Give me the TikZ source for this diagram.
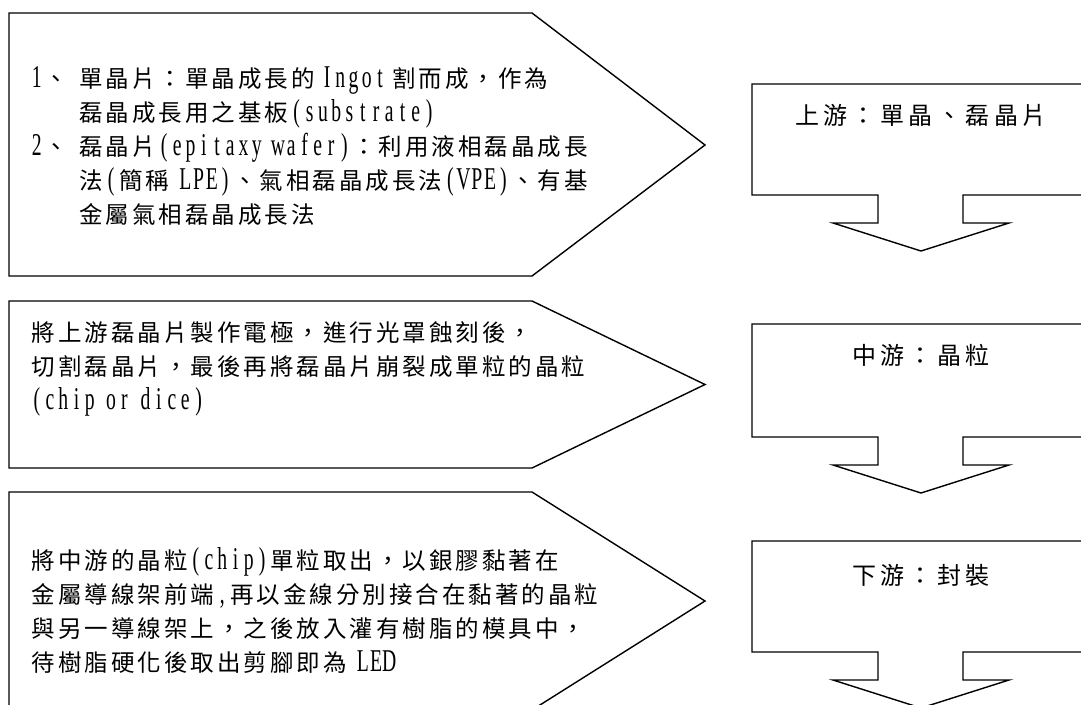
\documentclass[tikz,border=0pt]{standalone}
\usepackage{fontspec}
\setmainfont{Noto Sans CJK TC}
\newfontfamily\latinf[FakeStretch=0.62,Scale=1.35]{Liberation Serif}
\newdimen\fullw \fullw=26.5pt
\newdimen\halfw \halfw=13.25pt
\newdimen\spw \spw=8pt
\newdimen\thinw \thinw=4pt
\def\mingend{\mingend}
\def\ming#1{\mingA#1\mingend}
\def\mingA#1{\ifx#1\mingend\else\mingB{#1}\expandafter\mingA\fi}
\def\mingB#1{%
  \ifnum`#1=32 \hbox to \spw{}%
  \else\ifnum`#1="2009 \hbox to \thinw{}%
  \else\ifnum`#1>"2000 \hbox to \fullw{\hss#1\hss}%
  \else\hbox to \halfw{\hss\latinf #1\hss}%
  \fi\fi\fi}
\tikzset{
  shp/.style={draw=black,line width=1.4pt,line join=miter,fill=white},
  ptxt/.style={anchor=base west,inner sep=0pt,font=\fontsize{23.5}{34}\selectfont},
  rtxt/.style={anchor=base,inner sep=0pt,font=\fontsize{24}{34}\selectfont},
}
\begin{document}
\begin{tikzpicture}[x=1pt,y=-1pt]
\useasboundingbox (0,0) rectangle (1081,704);
\fill[white] (0,0) rectangle (1081,704);
\clip (0,0) rectangle (1081,704);
% pentagons
\draw[shp] (9,13) -- (532,13) -- (705,145) -- (532,276) -- (9,276) -- cycle;
\draw[shp] (9,301) -- (532,301) -- (705,384.5) -- (532,468) -- (9,468) -- cycle;
\draw[shp] (9,492) -- (532,492) -- (705,601) -- (532,710) -- (9,710) -- cycle;
% down arrow callouts
\foreach \t/\b in {84/195, 324/437, 541/652}{
  \draw[shp] (752,\t) -- (1090,\t) -- (1090,\b) -- (963,\b) -- (963,\b+28)
    -- (1009,\b+28) -- (921,\b+56) -- (833,\b+28) -- (878,\b+28) -- (878,\b) -- (752,\b) -- cycle;
}
% pentagon 1 text
\node[ptxt] (p1a) at (30,87) {\ming{1、\ 單晶片：單晶成長的^^^^2009Ingot^^^^2009割而成，作為}};
\node[ptxt] (p1b) at (30,121) {\hspace*{47.75pt}\ming{磊晶成長用之基板(substrate)}};
\node[ptxt] (p1c) at (30,155) {\ming{2、\ 磊晶片(epitaxy\ wafer)：利用液相磊晶成長}};
\node[ptxt] (p1d) at (30,189) {\hspace*{47.75pt}\ming{法(簡稱\ LPE)、氣相磊晶成長法(VPE)、有基}};
\node[ptxt] (p1e) at (30,223) {\hspace*{47.75pt}\ming{金屬氣相磊晶成長法}};
% pentagon 2 text
\node[ptxt] (p2a) at (30,341) {\ming{將上游磊晶片製作電極，進行光罩蝕刻後，}};
\node[ptxt] (p2b) at (30,375) {\ming{切割磊晶片，最後再將磊晶片崩裂成單粒的晶粒}};
\node[ptxt] (p2c) at (30,409) {\ming{(chip\ or\ dice)}};
% pentagon 3 text
\node[ptxt] (p3a) at (30,569) {\ming{將中游的晶粒(chip)單粒取出，以銀膠黏著在}};
\node[ptxt] (p3b) at (30,603) {\ming{金屬導線架前端,再以金線分別接合在黏著的晶粒}};
\node[ptxt] (p3c) at (30,637) {\ming{與另一導線架上，之後放入灌有樹脂的模具中，}};
\node[ptxt] (p3d) at (30,671) {\ming{待樹脂硬化後取出剪腳即為\ LED}};
% right box texts
\begingroup\fullw=28.5pt
\node[rtxt] (r1) at (921,124) {\ming{上游：單晶、磊晶片}};
\node[rtxt] (r2) at (921,364) {\ming{中游：晶粒}};
\node[rtxt] (r3) at (921,584) {\ming{下游：封裝}};
\endgroup
\end{tikzpicture}
\end{document}
